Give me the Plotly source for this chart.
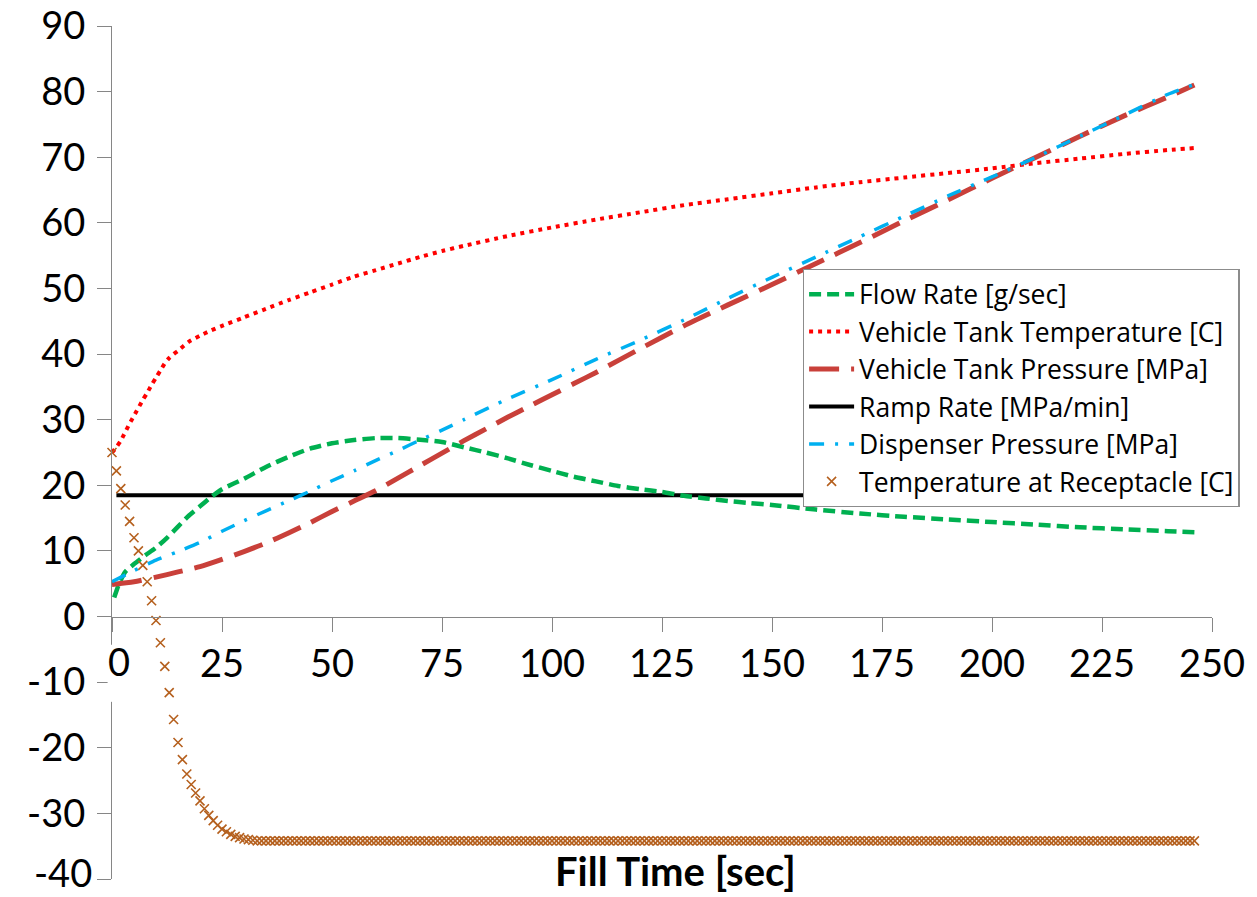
import plotly.graph_objects as go

# ---------------- data ----------------
flow_t = [0.5, 1.5, 3, 5, 7.5, 10, 12.5, 15, 17.5, 20, 22.5, 25, 30, 35, 40, 45, 50, 55, 60, 65,
          70, 75, 80, 85, 90, 95, 100, 105, 110, 115, 120, 125, 130, 135, 140, 145, 150, 160,
          170, 180, 190, 200, 210, 220, 230, 240, 246]
flow_rate = [2.9, 4.8, 6.8, 8.0, 9.3, 10.5, 12.0, 13.7, 15.4, 16.8, 18.2, 19.4, 21.0, 22.8, 24.3,
             25.6, 26.4, 26.9, 27.2, 27.2, 26.95, 26.6, 25.8, 25.0, 24.1, 23.1, 22.2, 21.3, 20.6,
             19.9, 19.4, 19.0, 18.4, 18.0, 17.6, 17.3, 17.0, 16.3, 15.7, 15.2, 14.8, 14.4, 14.0,
             13.6, 13.3, 13.0, 12.85]

temp_t = [0, 1, 2, 3, 4, 5, 6, 7, 8, 9, 10, 11, 12, 13, 14, 15, 17.5, 20, 22.5, 25, 30, 35, 40,
          45, 50, 55, 60, 65, 70, 75, 80, 90, 100, 110, 120, 130, 140, 150, 160, 170, 180, 190,
          200, 210, 220, 230, 240, 246]
tank_temp = [25.0, 25.8, 26.8, 28.1, 29.4, 30.6, 31.8, 33.0, 34.1, 35.3, 36.4, 37.5, 38.6, 39.4,
             40.0, 40.5, 41.9, 42.8, 43.6, 44.3, 45.6, 46.9, 48.2, 49.4, 50.6, 51.8, 52.8, 53.8,
             54.8, 55.7, 56.5, 58.0, 59.3, 60.5, 61.6, 62.7, 63.6, 64.5, 65.4, 66.2, 66.9, 67.6,
             68.3, 69.1, 69.8, 70.5, 71.1, 71.4]

press_t = [0, 5, 10, 15, 20, 25, 30, 35, 40, 45, 50, 55, 60, 65, 70, 75, 80, 85, 90, 95, 100,
           105, 110, 120, 130, 140, 150, 160, 170, 180, 190, 200, 210, 220, 230, 240, 246]
tank_press = [4.9, 5.3, 6.0, 6.8, 7.6, 8.7, 9.9, 11.2, 12.7, 14.3, 16.0, 17.6, 19.2, 21.1, 23.0,
              24.9, 26.8, 28.6, 30.4, 32.1, 33.8, 35.5, 37.2, 40.8, 44.3, 47.5, 50.6, 53.8, 57.0,
              60.3, 63.5, 66.8, 70.0, 73.2, 76.3, 79.2, 81.0]

disp_t = [0, 5, 10, 15, 20, 25, 30, 35, 40, 45, 50, 55, 60, 65, 70, 75, 80, 90, 100, 110, 120,
          130, 140, 150, 160, 170, 180, 190, 200, 210, 220, 230, 240, 246]
disp_press = [5.3, 7.0, 8.6, 9.9, 11.3, 13.0, 14.6, 16.1, 17.6, 19.1, 20.7, 22.2, 23.8, 25.3,
              26.9, 28.4, 30.0, 33.2, 36.1, 39.2, 42.1, 45.2, 48.5, 51.7, 54.8, 57.9, 61.0, 64.1,
              67.0, 70.0, 73.2, 76.4, 79.6, 81.1]

ramp_t = [1, 246]
ramp_rate = [18.5, 18.5]

rec_t = list(range(0, 247))
rec_early = [25.0, 22.2, 19.5, 17.0, 14.5, 12.0, 10.0, 7.8, 5.3, 2.4, -0.6, -4.0, -7.6, -11.6,
             -15.7, -19.2, -21.8, -24.0, -25.6, -26.9, -28.1, -29.3, -30.3, -31.1, -31.8, -32.4,
             -32.8, -33.2, -33.5, -33.7, -33.9, -34.0, -34.1]
REC_PLATEAU = -34.2
rec_temp = rec_early + [REC_PLATEAU] * (len(rec_t) - len(rec_early))

x_ticks = [0, 25, 50, 75, 100, 125, 150, 175, 200, 225, 250]
y_ticks = [-40, -30, -20, -10, 0, 10, 20, 30, 40, 50, 60, 70, 80, 90]
y_labels = ["-40", "-30", "-20", "-10", "0", "10", "20", "30", "40", "50", "60", "70", "80", "90"]

# ---------------- figure ----------------
FONT = "Lato"
LEG_FONT = "Open Sans"
AX = "#868686"

fig = go.Figure()

fig.add_trace(go.Scatter(x=ramp_t, y=ramp_rate, mode="lines", name="Ramp Rate [MPa/min]",
                         line=dict(color="#000000", width=4), legendrank=4))
fig.add_trace(go.Scatter(x=flow_t, y=flow_rate, mode="lines", name="Flow Rate [g/sec]",
                         line=dict(color="#00B050", width=4.5, dash="12px,6px", shape="spline",
                                   smoothing=0.6),
                         legendrank=1))
fig.add_trace(go.Scatter(x=temp_t, y=tank_temp, mode="lines", name="Vehicle Tank Temperature [C]",
                         line=dict(color="#FF0000", width=4, dash="4px,5px", shape="spline",
                                   smoothing=0.6),
                         legendrank=2))
fig.add_trace(go.Scatter(x=press_t, y=tank_press, mode="lines", name="Vehicle Tank Pressure [MPa]",
                         line=dict(color="#C9403A", width=5, dash="30px,12px", shape="spline",
                                   smoothing=0.6),
                         legendrank=3))
fig.add_trace(go.Scatter(x=disp_t, y=disp_press, mode="lines", name="Dispenser Pressure [MPa]",
                         line=dict(color="#00B0F0", width=3.5, dash="15px,11px,3px,11px",
                                   shape="spline", smoothing=0.6),
                         legendrank=5))
fig.add_trace(go.Scatter(x=rec_t, y=rec_temp, mode="markers", name="Temperature at Receptacle [C]",
                         marker=dict(symbol="x-thin-open", size=9, color="#B5601E",
                                     line=dict(color="#B5601E", width=1.6)),
                         cliponaxis=False, legendrank=6))

fig.update_layout(
    width=1257, height=897,
    margin=dict(l=112, r=45, t=26, b=18, autoexpand=False),
    paper_bgcolor="white", plot_bgcolor="white",
    font=dict(family=FONT, color="#000000"),
    showlegend=True,
    legend=dict(x=0.628, y=0.715, xanchor="left", yanchor="top",
                bgcolor="white", bordercolor="#8c8c8c", borderwidth=1.3,
                font=dict(family=LEG_FONT, size=26.5, color="#000000"),
                itemwidth=45, tracegroupgap=0),
    xaxis=dict(range=[0, 250], anchor="free", position=40 / 130, automargin=False,
               showgrid=False, zeroline=False, showline=True, linecolor=AX, linewidth=1.3,
               ticks="outside", ticklen=14, tickcolor=AX, tickwidth=1.3,
               tickvals=x_ticks, ticktext=[""] + [str(v) for v in x_ticks[1:]],
               tickfont=dict(family=FONT, size=38, color="#000000")),
    yaxis=dict(range=[-40, 90], automargin=False, showgrid=False, zeroline=False, showline=True,
               linecolor=AX, linewidth=1.3, ticks="outside", ticklen=14, tickcolor=AX,
               tickwidth=1.3, tickvals=y_ticks, ticktext=[""] + y_labels[1:],
               ticklabelstandoff=4,
               tickfont=dict(family=FONT, size=38, color="#000000")),
)

# bottom y label, kept inside the page
fig.add_annotation(x=0, xref="paper", xshift=-18, y=-0.0207, yref="paper", text=y_labels[0],
                   showarrow=False, xanchor="right", yanchor="bottom",
                   font=dict(family=FONT, size=38, color="#000000"))

# white label background that interrupts the y axis line behind the x "0" label
fig.add_shape(type="rect", xref="paper", yref="y", x0=-0.004, x1=0.004, y0=-13.0, y1=-4.3,
              fillcolor="white", line=dict(width=0), layer="above")
fig.add_annotation(x=0.0065, xref="paper", y=-3.0, yref="y", text="0", showarrow=False,
                   xanchor="center", yanchor="top",
                   font=dict(family=FONT, size=38, color="#000000"))

fig.add_annotation(x=0.512, xref="paper", y=-0.0207, yref="paper", text="<b>Fill Time [sec]</b>",
                   showarrow=False, xanchor="center", yanchor="bottom",
                   font=dict(family=FONT, size=40, color="#000000"))

fig.write_html("out.html")
